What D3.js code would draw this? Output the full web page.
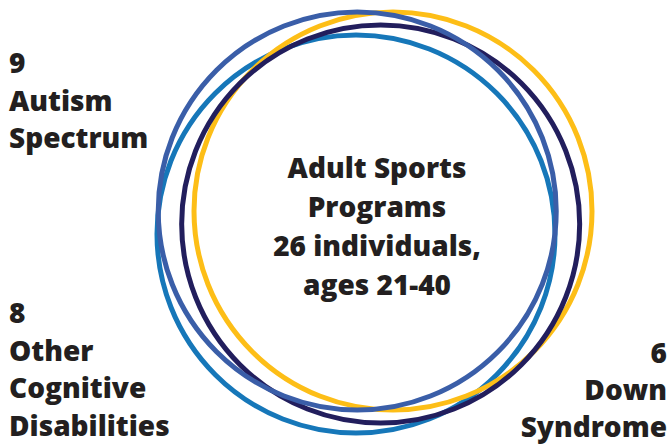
<!DOCTYPE html>
<html>
<head>
<meta charset="utf-8">
<script src="https://cdn.jsdelivr.net/npm/d3@7"></script>
<style>
  html, body { margin: 0; padding: 0; background: #fff; }
  svg { display: block; }
  text { font-family: "Open Sans", Lato, sans-serif; font-weight: 800; fill: #231f20; }
</style>
</head>
<body>
<svg id="chart" width="670" height="446"></svg>
<script>
// ---- data ----
const groups = ["Adult Sports Programs", "Autism Spectrum", "Other Cognitive Disabilities", "Down Syndrome"];
const counts = [26, 9, 8, 6];
const centerLines = ["Adult Sports", "Programs", "26 individuals,", "ages 21-40"];
const labelAutism = ["9", "Autism", "Spectrum"];
const labelOther = ["8", "Other", "Cognitive", "Disabilities"];
const labelDown = ["6", "Down", "Syndrome"];
// circle centre offsets (abstract units) for each ring, drawn back to front
const ringNames = ["Other Cognitive Disabilities", "Down Syndrome", "Adult Sports Programs", "Autism Spectrum"];
const ringDX = [-1.0, 2.0, 1.0, -0.9];
const ringDY = [1.15, 0.0, 0.65, 0.0];
const ringColors = ["#1677b9", "#fdbe17", "#221e5d", "#3a5ea8"];

const W = 670, H = 446;
const svg = d3.select("#chart");

const x = d3.scaleLinear().domain([-1, 2]).range([356, 393]);
const y = d3.scaleLinear().domain([0, 1.15]).range([211, 234]);
const r = d3.scaleSqrt().domain([0, 26]).range([0, 199]);

svg.append("g").selectAll("circle")
  .data(ringNames)
  .join("circle")
  .attr("cx", (d, i) => x(ringDX[i]))
  .attr("cy", (d, i) => y(ringDY[i]))
  .attr("r", r(counts[0]))
  .attr("fill", "none")
  .attr("stroke", (d, i) => ringColors[i])
  .attr("stroke-width", 5);

const fs = 28;

function block(lines, x0, y0, anchor, lineH) {
  const t = svg.append("text")
    .attr("text-anchor", anchor)
    .style("font-size", fs + "px")
    .style("letter-spacing", "0px");
  t.selectAll("tspan").data(lines).join("tspan")
    .attr("x", x0)
    .attr("y", (d, i) => y0 + i * lineH)
    .text(d => d);
}

block(centerLines, 377, 178, "middle", 39);
block(labelAutism, 9, 73, "start", 37.5);
block(labelOther, 9, 323, "start", 37.5);
block(labelDown, 667, 363, "end", 37);
</script>
</body>
</html>
